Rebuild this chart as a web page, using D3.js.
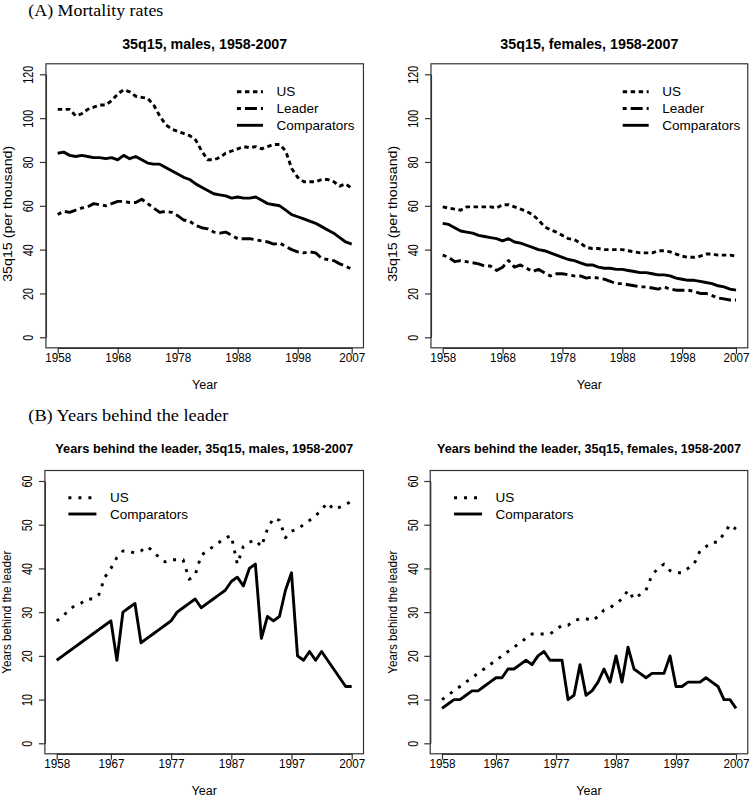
<!DOCTYPE html>
<html><head><meta charset="utf-8">
<script src="https://cdn.jsdelivr.net/npm/d3@7"></script>
<style>
body{margin:0;background:#fff;}
svg{display:block;}
text{font-family:"Liberation Sans",Arial,Helvetica,sans-serif;fill:#000;}
</style></head>
<body>
<svg id="chart" width="752" height="798"></svg>
<script>
// ---------- DATA ----------
const years = [1958,1959,1960,1961,1962,1963,1964,1965,1966,1967,
  1968,1969,1970,1971,1972,1973,1974,1975,1976,1977,
  1978,1979,1980,1981,1982,1983,1984,1985,1986,1987,
  1988,1989,1990,1991,1992,1993,1994,1995,1996,1997,
  1998,1999,2000,2001,2002,2003,2004,2005,2006,2007];

// (A) 35q15 mortality, per thousand
const usMalesMort = [104,104,104,101,102,104,105,106,106,108, 111,113,112,110,109.5,109,106,101,97,95,
  94,93,92,90,85,81,81,82,84,85, 86,87,86.5,87,86,87,88,88,85,77, 73,71,71,71,72,72,71,69,70,68];
const leaderMalesMort = [56,57.5,57,58,59,59.5,61,60.5,60,61, 62,62,61.5,61.5,63,61,59,57,57.5,57,
  55.5,53.5,53,51,50,49.5,48,47.5,48,46.5, 45,45,45,44.5,44,43.5,42.5,43,41.5,40, 39,38.5,39,38.5,36,35.5,35,33.5,32.5,31];
const compMalesMort = [84,84.5,83,82.5,83,82.5,82,82,81.5,82, 81,83,81.5,82.5,81,79.5,79,79,77.5,76,
  74.5,73,72,70,68.5,67,65.5,65,64.5,63.5, 64,63.5,63.5,64,62.5,61,60.5,60,58,56, 55,54,53,52,50.5,49,47.5,45.5,43.5,42.5];
const usFemMort = [59.5,59,58.5,58,59.5,59.5,59.5,59.5,59.5,59, 60.5,60.5,59.5,58.5,57.5,56,53.5,50.5,49,48,
  46.5,45,44.5,43,41,40.5,40.5,40,40,40, 40,39.5,39,38.5,38.5,38.5,39.5,39.5,39,38, 37,36.5,36.5,37,38,38,37.5,37.5,37.5,37];
const leaderFemMort = [37.5,36.5,34.5,35,34.5,34,33.5,32.5,32.5,30.5, 32,35,32,33,31.5,30,31,29.5,28,29,
  29,28.5,28,28,27,27.5,27,26.5,25.5,24.5, 24.5,24,23.5,23,23,22.5,22,23,22,21.5, 21.5,21.5,21,20,20,19,18,17.5,17,17];
const compFemMort = [52,51.5,50,48.5,48,47.5,46.5,46,45.5,45, 44,45,43.5,43,42,41,40,39.5,38.5,37.5,
  36.5,35.5,35,34,33,33,32,31.5,31.5,31, 31,30.5,30,29.5,29.5,29,28.5,28.5,28,27, 26.5,26,26,25.5,25,24.5,23.5,23,22,21.5];

// (B) Years behind the leader
const usMalesYrs = [28,29,30.5,31.5,32,33,33,34,38,40, 42.5,44,44,43.5,44,45,44,42.5,41.5,42,
  42,42,37.5,38.5,43,44,45,46,47,47.5, 41,45,46,46.5,45,49,51.5,51,47,48.5, 49,50,51,52,53.5,55,53.5,54,54.5,55.5];
const compMalesYrs = [19,20,21,22,23,24,25,26,27,28, 19,30,31,32,23,24,25,26,27,28,
  30,31,32,33,31,32,33,34,35,37, 38,36,40,41,24,29,28,29,35,39, 20,19,21,19,21,19,17,15,13,13];
const usFemYrs = [10,11,12,13,14,15,16,17,18,19, 20,21,22,23,24,25,25,25,25,26,
  27,27,28,28.5,28.5,28,29,30.5,31,32, 33,35,33,34,35,38.5,40,41,39.5,39, 39,40,41,44,45,46,46,48,50,49];
const compFemYrs = [8,9,10,10,11,12,12,13,14,15, 15,17,17,18,19,18,20,21,19,19,
  19,10,11,18,11,12,14,17,14,20, 14,22,17,16,15,16,16,16,20,13, 13,14,14,14,15,14,13,10,10,8];

// tick labels
const xTicksA = [1958,1968,1978,1988,1998,2007];
const xTicksB = [1958,1967,1977,1987,1997,2007];
const yTicksA = [0,20,40,60,80,100,120];
const yTicksB = [0,10,20,30,40,50,60];

// ---------- DRAWING ----------
const svg = d3.select("#chart");
const STY = {
  usA:{dash:"4.5,3.5"}, leader:{dash:"4,4,12,4"}, comp:{dash:null}, usB:{dash:"3,7"}
};

svg.append("text").attr("x",28.3).attr("y",15.5)
  .style("font-family","'Liberation Serif','Times New Roman',serif").style("font-size","16px")
  .attr("textLength",135).attr("lengthAdjust","spacingAndGlyphs").text("(A) Mortality rates");
svg.append("text").attr("x",28.3).attr("y",420.5)
  .style("font-family","'Liberation Serif','Times New Roman',serif").style("font-size","16px")
  .attr("textLength",200).attr("lengthAdjust","spacingAndGlyphs").text("(B) Years behind the leader");

function panel(cfg){
  const x = d3.scaleLinear().domain([1958,2007]).range(cfg.xr);
  const y = d3.scaleLinear().domain(cfg.ydom).range(cfg.yr);
  const ex = (cfg.xr[1]-cfg.xr[0])*0.04, ey = (cfg.yr[0]-cfg.yr[1])*0.04;
  const bx0 = cfg.xr[0]-ex, bx1 = cfg.xr[1]+ex, by0 = cfg.yr[1]-ey, by1 = cfg.yr[0]+ey;
  const g = svg.append("g");
  // box
  g.append("rect").attr("x",bx0).attr("y",by0).attr("width",bx1-bx0).attr("height",by1-by0)
    .attr("fill","none").attr("stroke","#333").attr("stroke-width",1.2);
  // x axis
  const xa = g.append("g").attr("transform",`translate(0,${by1})`)
    .call(d3.axisBottom(x).tickValues(cfg.xticks).tickFormat(d3.format("d")).tickSize(6).tickSizeOuter(0));
  xa.select(".domain").attr("stroke","#333").attr("stroke-width",1.2);
  xa.selectAll(".tick line").attr("stroke","#333").attr("stroke-width",1.2);
  xa.selectAll(".tick text").attr("dy",null).attr("y",14.5).style("font-size","13px")
    .style("font-family","'Liberation Sans',Arial,sans-serif").attr("fill","#000")
    .attr("textLength",26).attr("lengthAdjust","spacingAndGlyphs");
  // y axis
  const ya = g.append("g").attr("transform",`translate(${bx0},0)`)
    .call(d3.axisLeft(y).tickValues(cfg.yticks).tickFormat(d3.format("d")).tickSize(6).tickSizeOuter(0));
  ya.select(".domain").attr("stroke","#333").attr("stroke-width",1.2);
  ya.selectAll(".tick line").attr("stroke","#333").attr("stroke-width",1.2);
  ya.selectAll(".tick text").attr("x",0).attr("dy",null).attr("y",0)
    .attr("text-anchor","middle").attr("transform","translate(-12.5,0) rotate(-90)")
    .style("font-size","14px").style("font-family","'Liberation Sans',Arial,sans-serif").attr("fill","#000")
    .attr("textLength",d=>String(d).length*6).attr("lengthAdjust","spacingAndGlyphs");
  // title
  g.append("text").attr("x",(bx0+bx1)/2).attr("y",cfg.titleY).attr("text-anchor","middle")
    .style("font-weight","bold").style("font-size",cfg.titleSize+"px")
    .attr("textLength",cfg.titleLen).attr("lengthAdjust","spacingAndGlyphs").text(cfg.title);
  // axis labels
  g.append("text").attr("x",(bx0+bx1)/2).attr("y",by1+41).attr("text-anchor","middle")
    .style("font-size","12.5px").text("Year");
  g.append("text").attr("text-anchor","middle")
    .attr("transform",`translate(${bx0-33.5},${(by0+by1)/2+cfg.ylabShift}) rotate(-90)`)
    .style("font-size","12.5px").attr("textLength",cfg.ylabLen).attr("lengthAdjust","spacingAndGlyphs")
    .text(cfg.ylab);
  // series
  const line = d3.line().x((d,i)=>x(years[i])).y(d=>y(d));
  cfg.series.forEach(s=>{
    g.append("path").datum(s.values).attr("d",line).attr("fill","none")
      .attr("stroke","#000").attr("stroke-width",2.9).attr("stroke-linejoin","round")
      .attr("stroke-dasharray",s.sty.dash);
  });
  // legend
  cfg.series.slice().sort((a,b)=>a.order-b.order).forEach((s,i)=>{
    const ly = cfg.legY + i*cfg.legStep;
    g.append("line").attr("x1",bx0+cfg.legX).attr("x2",bx0+cfg.legX+cfg.legW).attr("y1",ly).attr("y2",ly)
      .attr("stroke","#000").attr("stroke-width",2.9).attr("stroke-dasharray",s.sty.dash);
    g.append("text").attr("x",bx0+cfg.legX+cfg.legW+13.5).attr("y",ly+4.6)
      .style("font-size","13.5px").text(s.name);
  });
}

panel({xr:[57.7,351.7], yr:[337.3,74.3], ydom:[0,120], xticks:xTicksA, yticks:yTicksA,
  title:"35q15, males, 1958-2007", titleY:49.3, titleSize:15, titleLen:165,
  ylab:"35q15 (per thousand)", ylabLen:136, ylabShift:8,
  legX:191, legW:26, legY:91.7, legStep:16.8,
  series:[{name:"US",values:usMalesMort,sty:STY.usA,order:0},
          {name:"Leader",values:leaderMalesMort,sty:STY.leader,order:1},
          {name:"Comparators",values:compMalesMort,sty:STY.comp,order:2}]});
panel({xr:[442.7,736], yr:[337.3,74.3], ydom:[0,120], xticks:xTicksA, yticks:yTicksA,
  title:"35q15, females, 1958-2007", titleY:49.3, titleSize:15, titleLen:178,
  ylab:"35q15 (per thousand)", ylabLen:136, ylabShift:8,
  legX:191.7, legW:26, legY:91.7, legStep:16.8,
  series:[{name:"US",values:usFemMort,sty:STY.usA,order:0},
          {name:"Leader",values:leaderFemMort,sty:STY.leader,order:1},
          {name:"Comparators",values:compFemMort,sty:STY.comp,order:2}]});
panel({xr:[56.7,351.7], yr:[743.3,481], ydom:[0,60], xticks:xTicksB, yticks:yTicksB,
  title:"Years behind the leader, 35q15, males, 1958-2007", titleY:452.5, titleSize:12.5, titleLen:298,
  ylab:"Years behind the leader", ylabLen:123, ylabShift:0,
  legX:23.5, legW:28, legY:497.7, legStep:16.3,
  series:[{name:"US",values:usMalesYrs,sty:STY.usB,order:0},
          {name:"Comparators",values:compMalesYrs,sty:STY.comp,order:1}]});
panel({xr:[442,736], yr:[743.3,481], ydom:[0,60], xticks:xTicksB, yticks:yTicksB,
  title:"Years behind the leader, 35q15, females, 1958-2007", titleY:452.5, titleSize:12.5, titleLen:304,
  ylab:"Years behind the leader", ylabLen:123, ylabShift:0,
  legX:23.8, legW:28, legY:497.7, legStep:16.3,
  series:[{name:"US",values:usFemYrs,sty:STY.usB,order:0},
          {name:"Comparators",values:compFemYrs,sty:STY.comp,order:1}]});
</script>
</body></html>
